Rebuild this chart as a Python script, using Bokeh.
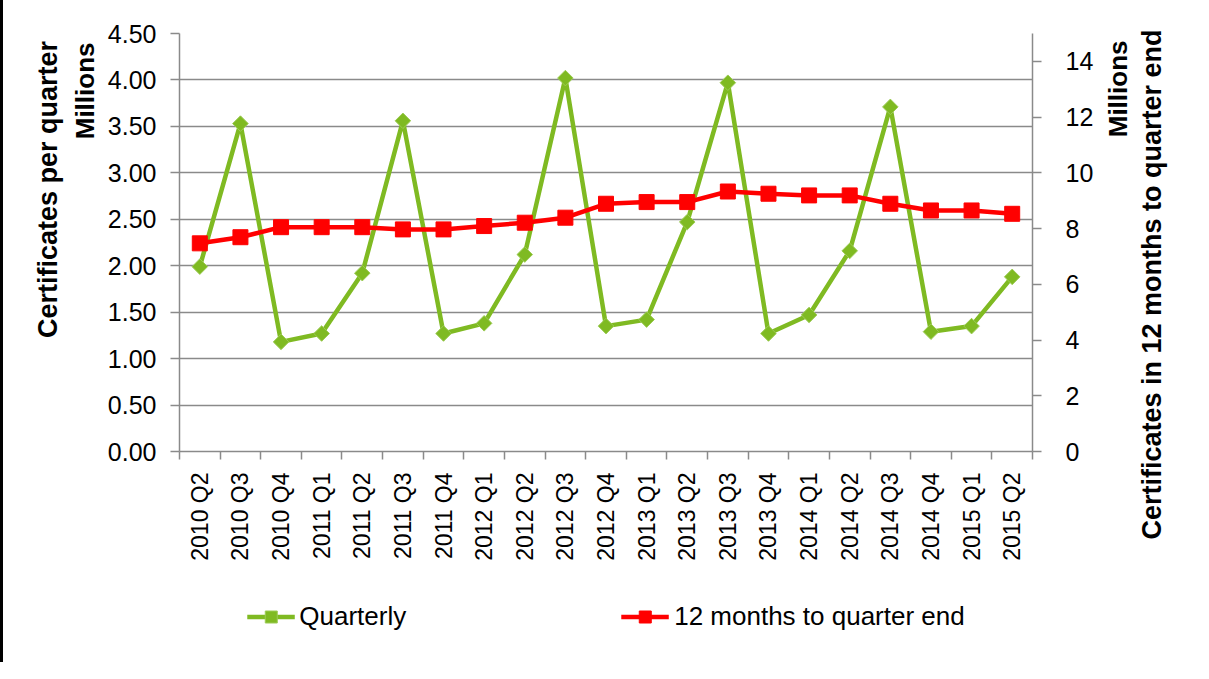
import math
from bokeh.plotting import figure
from bokeh.layouts import row, column
from bokeh.models import (Range1d, LinearAxis, FixedTicker, NumeralTickFormatter,
                          Legend, LegendItem, Title, ColumnDataSource)
from bokeh.embed import file_html
from bokeh.resources import INLINE

categories = ["2010 Q2", "2010 Q3", "2010 Q4", "2011 Q1", "2011 Q2", "2011 Q3", "2011 Q4",
              "2012 Q1", "2012 Q2", "2012 Q3", "2012 Q4", "2013 Q1", "2013 Q2", "2013 Q3",
              "2013 Q4", "2014 Q1", "2014 Q2", "2014 Q3", "2014 Q4", "2015 Q1", "2015 Q2"]
quarterly = [1.99, 3.53, 1.18, 1.27, 1.92, 3.56, 1.27, 1.38, 2.12, 4.02, 1.35, 1.42, 2.47,
             3.97, 1.27, 1.47, 2.16, 3.71, 1.29, 1.35, 1.88]
twelve_months = [7.47, 7.69, 8.05, 8.05, 8.05, 7.97, 7.97, 8.09, 8.21, 8.39, 8.89, 8.95,
                 8.95, 9.33, 9.25, 9.19, 9.19, 8.89, 8.65, 8.65, 8.53]
left_ticks = [0.0, 0.5, 1.0, 1.5, 2.0, 2.5, 3.0, 3.5, 4.0, 4.5]
right_ticks = [0, 2, 4, 6, 8, 10, 12, 14]

FONT = "Liberation Sans"
GRAY = "#8a8a8a"
GREEN = "#7FBA22"
RED = "#FF0000"

xs = list(range(len(categories)))
src = ColumnDataSource(dict(x=xs, q=quarterly, t=twelve_months, cat=categories))


def draw_series(fig):
    gl = fig.line("x", "q", source=src, line_color=GREEN, line_width=4.5)
    gm = fig.scatter("x", "q", source=src, marker="square", angle=math.pi / 4, size=11,
                     fill_color=GREEN, line_color="#9CCB55", line_width=1)
    rl = fig.line("x", "t", source=src, y_range_name="right", line_color=RED, line_width=4.5)
    rm = fig.scatter("x", "t", source=src, y_range_name="right", marker="square", size=15,
                     fill_color=RED, line_color=RED)
    return gl, gm, rl, rm


def bold_title(text, align, offset, standoff, size):
    return Title(text=text, align=align, offset=offset, standoff=standoff,
                 text_font=FONT, text_font_style="bold", text_font_size=size,
                 text_color="black")


# ---------------- main chart ----------------
p = figure(width=1097, height=570, output_backend="svg", toolbar_location=None,
           x_range=Range1d(-0.5, len(categories) - 0.5), y_range=Range1d(0, 4.5),
           min_border_left=176, min_border_right=68, min_border_top=33, min_border_bottom=119)
p.extra_y_ranges = {"right": Range1d(0, 15)}
p.outline_line_color = None
p.background_fill_color = "white"
p.border_fill_color = "white"

xa = p.xaxis[0]
xa.ticker = FixedTicker(ticks=xs, minor_ticks=[i - 0.5 for i in range(len(categories) + 1)])
xa.major_label_overrides = {i: c for i, c in enumerate(categories)}
xa.major_label_orientation = math.pi / 2
xa.major_tick_out = 0
xa.major_tick_in = 0
xa.major_tick_line_color = None
xa.minor_tick_out = 8
xa.minor_tick_in = 0
xa.minor_tick_line_color = GRAY
xa.minor_tick_line_width = 1.5
xa.axis_line_color = GRAY
xa.axis_line_width = 1.5
xa.major_label_standoff = 13
xa.major_label_text_font = FONT
xa.major_label_text_font_size = "23px"
xa.major_label_text_color = "black"

ya = p.yaxis[0]
ya.ticker = FixedTicker(ticks=left_ticks)
ya.formatter = NumeralTickFormatter(format="0.00")
ya.major_tick_out = 9
ya.major_tick_in = 0
ya.minor_tick_line_color = None
ya.major_tick_line_color = GRAY
ya.major_tick_line_width = 1.5
ya.axis_line_color = GRAY
ya.axis_line_width = 1.5
ya.major_label_standoff = 14
ya.major_label_text_font = FONT
ya.major_label_text_font_size = "25px"
ya.major_label_text_color = "black"

ra = LinearAxis(y_range_name="right", ticker=FixedTicker(ticks=right_ticks))
ra.major_tick_out = 9
ra.major_tick_in = 0
ra.minor_tick_line_color = None
ra.major_tick_line_color = GRAY
ra.major_tick_line_width = 1.5
ra.axis_line_color = GRAY
ra.axis_line_width = 1.5
ra.major_label_standoff = 24
ra.major_label_text_align = "left"
ra.major_label_text_font = FONT
ra.major_label_text_font_size = "25px"
ra.major_label_text_color = "black"
p.add_layout(ra, "right")

p.xgrid.visible = False
p.ygrid.ticker = FixedTicker(ticks=left_ticks)
p.ygrid.grid_line_color = GRAY
p.ygrid.grid_line_width = 1.5

p.add_layout(bold_title("Millions", "right", 9, 10, "26px"), "left")
p.add_layout(bold_title("Certificates  per quarter", "right", 0, 0, "27px"), "left")

draw_series(p)

# ---------------- right-hand titles ----------------
p2 = figure(width=109, height=570, output_backend="svg", toolbar_location=None,
            x_range=Range1d(0, 1), y_range=Range1d(0, 1),
            x_axis_location=None, y_axis_location=None,
            min_border_left=65, min_border_right=20, min_border_top=33, min_border_bottom=119)
p2.outline_line_color = None
p2.grid.visible = False
p2.background_fill_color = "white"
p2.border_fill_color = "white"
p2.add_layout(bold_title("Certificates  in 12 months to quarter end", "left", -88, 4, "27px"),
              "left")
p2.add_layout(bold_title("Millions", "right", 7, 0, "26px"), "left")

# ---------------- legend strip ----------------
lf = figure(width=1097, height=92, output_backend="svg", toolbar_location=None,
            x_range=Range1d(-0.5, len(categories) - 0.5), y_range=Range1d(100, 101),
            x_axis_location=None, y_axis_location=None,
            min_border_left=176, min_border_right=68, min_border_top=0, min_border_bottom=0)
lf.extra_y_ranges = {"right": Range1d(100, 101)}
lf.outline_line_color = None
lf.grid.visible = False
lf.background_fill_color = "white"
lf.border_fill_color = "white"
gl, gm, rl, rm = draw_series(lf)
legend = Legend(items=[LegendItem(label="Quarterly", renderers=[gl, gm]),
                       LegendItem(label="12 months to quarter end", renderers=[rl, rm])],
                orientation="horizontal", location="center", spacing=215,
                glyph_width=48, glyph_height=30, label_standoff=5,
                label_text_font=FONT, label_text_font_size="26px", label_text_color="black",
                border_line_color=None, background_fill_alpha=0, margin=0, padding=0)
lf.add_layout(legend, "center")

layout = column(row(p, p2, spacing=0), lf, spacing=0)
layout.styles = {"border-left": "3px solid black"}
open("out.html", "w").write(file_html(layout, INLINE))
